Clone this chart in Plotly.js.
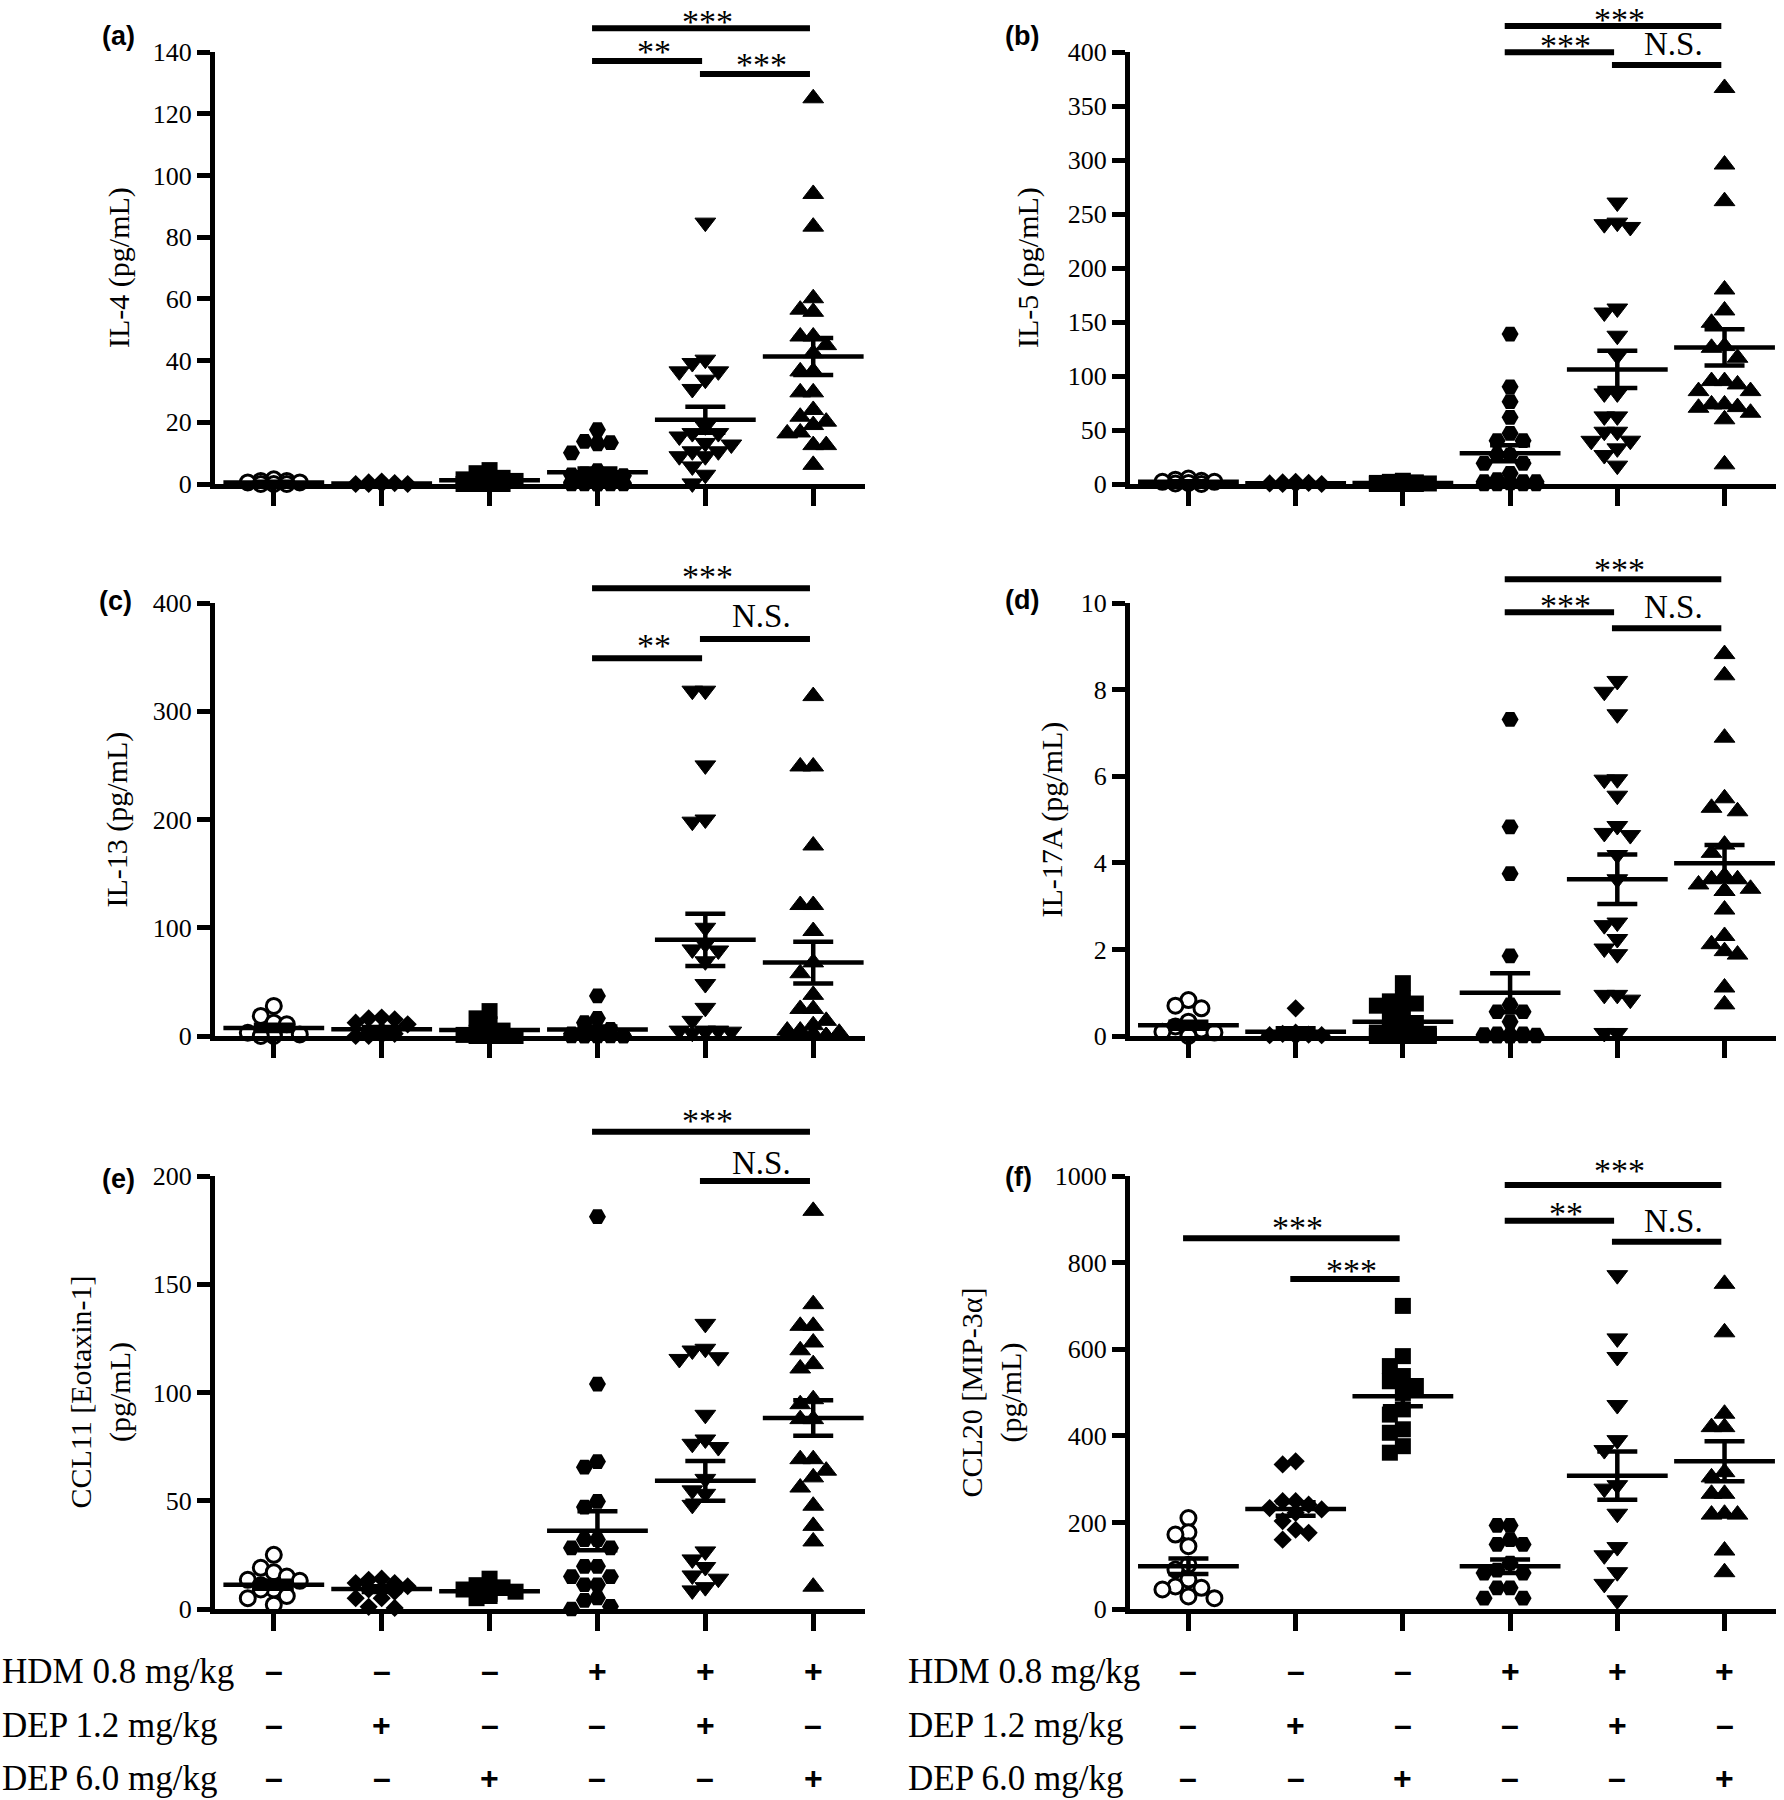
<!DOCTYPE html>
<html><head><meta charset="utf-8">
<script src="https://cdn.plot.ly/plotly-3.0.1.min.js"></script>
<style>html,body{margin:0;padding:0;background:#fff}</style>
</head><body><div id="chart" style="width:1784px;height:1800px"></div>
<script>
// ---------------- DATA ----------------
const groupNames = ['Control','DEP 1.2','DEP 6.0','HDM','HDM+DEP 1.2','HDM+DEP 6.0'];
const hdmRow  = ['–','–','–','+','+','+'];
const dep12Row = ['–','+','–','–','+','–'];
const dep60Row = ['–','–','+','–','–','+'];
const rowLabels = ['HDM 0.8 mg/kg','DEP 1.2 mg/kg','DEP 6.0 mg/kg'];

// (a) IL-4
const il4Values = [
  [1.5,1,1,0.5,0.5,0,0,0],
  [0.8,0.5,0.3,0,0,0,0],
  [4.5,3.5,2,1.5,1,0.5,0,0,0,0],
  [17.6,13.8,13.4,13.0,10.1,4.3,3.3,3,3,2.7,2.7,1.5,1,0.6,0.3,0.3,0,0,0,0,0,0],
  [84.7,40.3,39.2,36.5,36.5,33.8,30.8,18.7,16.5,16.5,15.4,13.3,12.8,10.6,10.6,9.0,9.0,5.7,3.0,0.2],
  [125,94,83.4,60.2,55.8,56.5,47.8,47.8,45,42.4,36.5,36.5,29.7,29.7,24,21.8,20.2,19.1,16.4,16.7,12.6,12.6,6.2]
];
const il4Mean = [0.5,0.2,1.2,3.8,20.8,41.3];
const il4Sem  = [0.2,0.1,0.5,1.2,4.2,6.0];
const il4SigPairs = [[4,6],[4,5],[5,6]];
const il4SigText  = ['***','**','***'];

// (b) IL-5
const il5Values = [
  [5,4,3,2,2,1,0.5,0],
  [2,1.5,1,0.5,0,0,0],
  [3,2,1.5,1,0.5,0,0,0,0],
  [138.8,90,76.2,61.7,46.9,40.1,40.1,26.8,26.8,19.1,19.1,9.9,4,2.1,2.1,2.1,1,0,0,0,0],
  [260.6,242,240.6,238,162.5,158.8,137.3,118.8,83.9,83.9,62.6,62.6,48.4,48.4,40.1,40,33,26.8,17],
  [366.7,295.8,261.9,180.1,160.7,149.3,127.7,126.1,116.9,95.3,95.3,92.2,86,86,73.7,73.7,71.2,70.6,66,59.9,18.2]
];
const il5Mean = [2,0.8,1,28.4,106.1,126.5];
const il5Sem  = [0.6,0.3,0.4,7.4,17.3,16.8];
const il5SigPairs = [[4,6],[4,5],[5,6]];
const il5SigText  = ['***','***','N.S.'];

// (c) IL-13
const il13Values = [
  [27.8,18.5,12.3,10.8,4.6,3,1.5,1.5,0,0],
  [17,16.3,15.4,12.3,10.8,5,3,2,1,0,0],
  [23,16.3,10.8,5,3,1,0,0,0,0],
  [37,16.3,12.3,6.2,3,2,0,0,0,0,0,0,0],
  [319,319,250,200,198,100,85,80,79,69,48,26,14,5,5,5,4,4,3],
  [314,249,249,176,121,121,97,68,58,38,25,25,14,10,5,5,3,2,0,0,0,0,0]
];
const il13Mean = [7.5,6.2,5.5,5.9,88.8,67.8];
const il13Sem  = [2.8,2.0,2.4,2.9,24.2,19.3];
const il13SigPairs = [[4,6],[4,5],[5,6]];
const il13SigText  = ['***','**','N.S.'];

// (d) IL-17A
const il17Values = [
  [0.83,0.7,0.64,0.33,0.22,0.15,0.1,0.08,0.05,0],
  [0.64,0.08,0.05,0.03,0.02,0.02,0],
  [1.22,0.87,0.8,0.75,0.7,0.55,0.45,0.3,0.15,0.1,0.08,0.05,0.02,0,0,0,0,0,0,0],
  [7.31,4.83,3.75,1.85,0.72,0.56,0.56,0.33,0.05,0.05,0.03,0.02,0.02,0,0,0,0,0,0,0],
  [8.2,7.95,7.43,5.93,5.92,5.55,4.85,4.69,4.64,4.18,3.62,2.62,2.56,2.24,2.02,1.89,0.95,0.95,0.84,0.07,0.07],
  [8.82,8.33,6.89,5.49,5.27,5.19,4.42,4.23,3.7,3.62,3.62,3.5,3.4,3.35,3.35,2.92,2.31,2.12,1.96,1.88,1.12,0.73]
];
const il17Mean = [0.25,0.1,0.33,1.0,3.62,3.99];
const il17Sem  = [0.08,0.08,0.09,0.45,0.57,0.42];
const il17SigPairs = [[4,6],[4,5],[5,6]];
const il17SigText  = ['***','***','N.S.'];

// (e) CCL11 [Eotaxin-1]
const ccl11Values = [
  [25,19,17,15,13.5,13,11,10,9,9,6,5,2],
  [14,13.5,12,12,10.5,9,9,8,5,5,1,0.5],
  [14,11,10,9,8,7,6,5],
  [181.2,103.9,68.1,65.5,49.7,47.1,32,32,28.2,28.2,19.7,19.7,15,15,11.2,11.2,5.1,4,1.2,0],
  [131.7,120.2,119.4,116.3,115.5,89.7,78.3,76.3,74.8,60.1,54.8,53.2,48.1,26.6,22.9,19.4,15.5,14,10.1,8.6],
  [183.9,140.8,130.8,130.8,123.1,119.5,113.1,111.1,96.9,94.6,87.7,87.7,69.2,69.2,63.9,60.8,56.1,47.7,38.4,31.2,10.3]
];
const ccl11Mean = [11.2,9.2,8.2,36.1,59.2,88.2];
const ccl11Sem  = [1.8,1.3,1.2,9.0,9.2,8.2];
const ccl11SigPairs = [[4,6],[5,6]];
const ccl11SigText  = ['***','N.S.'];

// (f) CCL20 [MIP-3α]
const ccl20Values = [
  [210,177,172,145,102,91,68,52,49,45,29,25],
  [341,334,249,249,241,233,230,222,203,183,176,160],
  [700,584,561,538,526,515,499,461,449,415,407,376,361],
  [193,193,160,149,149,106,90,83,83,49,49,25,25],
  [771,625,582,471,390,367,286,278,220,143,124,85,58,20],
  [751,639,451,420,420,316,304,266,266,220,218,218,135,85]
];
const ccl20Mean = [98.6,231,491.5,98.6,308,341.3];
const ccl20Sem  = [18,15.5,23,15.5,55.7,46];
const ccl20SigPairs = [[1,3],[2,3],[4,6],[4,5],[5,6]];
const ccl20SigText  = ['***','***','***','**','N.S.'];

// ---------------- LAYOUT / STYLE ----------------
const W = 1784, H = 1800;
const PX = x => x / W, PY = y => 1 - y / H;
const COLS = [{x0:215, x1:865}, {x0:1130, x1:1776}];
const ROWS = [{top:52, bot:484}, {top:603, bot:1036}, {top:1176, bot:1609}];
const XR = [0.455, 6.48];
const SERIF = 'Liberation Serif';
const SANS = 'Liberation Sans';
const STAR_SHIFT = 5;

const groupStyle = [
  {symbol:'circle', size:15, color:'#ffffff', lw:3},
  {symbol:'diamond', size:14, color:'#000000', lw:0},
  {symbol:'square', size:16, color:'#000000', lw:0},
  {symbol:'hexagon2', size:17, color:'#000000', lw:0},
  {symbol:'triangle-down', size:18, color:'#000000', lw:1},
  {symbol:'triangle-up', size:18, color:'#000000', lw:1}
];

const panels = [
  {letter:'(a)', title:'IL-4 (pg/mL)', vals:il4Values, mean:il4Mean, sem:il4Sem, pairs:il4SigPairs, sig:il4SigText,
   ymax:140, dtick:20, col:0, row:0, letterPos:[118,36], titleX:119, barY:[28.3,61,74], textY:[16,47,59]},
  {letter:'(b)', title:'IL-5 (pg/mL)', vals:il5Values, mean:il5Mean, sem:il5Sem, pairs:il5SigPairs, sig:il5SigText,
   ymax:400, dtick:50, col:1, row:0, letterPos:[1022,36], titleX:1028, barY:[26,52.3,65], textY:[15,40,43.5]},
  {letter:'(c)', title:'IL-13 (pg/mL)', vals:il13Values, mean:il13Mean, sem:il13Sem, pairs:il13SigPairs, sig:il13SigText,
   ymax:400, dtick:100, col:0, row:1, letterPos:[115,601], titleX:116, barY:[588.3,658.3,639], textY:[572,640,616]},
  {letter:'(d)', title:'IL-17A (pg/mL)', vals:il17Values, mean:il17Mean, sem:il17Sem, pairs:il17SigPairs, sig:il17SigText,
   ymax:10, dtick:2, col:1, row:1, letterPos:[1022,600], titleX:1051, barY:[579.3,612.3,628.3], textY:[564,600.5,606.7]},
  {letter:'(e)', title:'CCL11 [Eotaxin-1]<br>(pg/mL)', vals:ccl11Values, mean:ccl11Mean, sem:ccl11Sem, pairs:ccl11SigPairs, sig:ccl11SigText,
   ymax:200, dtick:50, col:0, row:2, letterPos:[118,1179], titleX:100, barY:[1131.7,1181], textY:[1115.5,1163]},
  {letter:'(f)', title:'CCL20 [MIP-3α]<br>(pg/mL)', vals:ccl20Values, mean:ccl20Mean, sem:ccl20Sem, pairs:ccl20SigPairs, sig:ccl20SigText,
   ymax:1000, dtick:200, col:1, row:2, letterPos:[1018,1177], titleX:991, barY:[1238.3,1279,1185,1220.7,1241.7], textY:[1222,1265.5,1165.5,1208,1221]}
];

// deterministic beeswarm offsets (in category units)
function swarm(vals, ymax, plotH, pxPerCat, center){
  const STEP = 6.5, MW = 13, MH = 13, K = 5;
  const pxY = plotH / ymax;
  const cands = [0];
  for (let k = 1; k <= K; k++) { cands.push(-k*STEP, k*STEP); }
  const order = vals.map((v,i)=>i).sort((a,b)=>vals[b]-vals[a]);
  const placed = [], xs = new Array(vals.length);
  order.forEach(i => {
    const py = vals[i]*pxY;
    let best = 0, bestHits = Infinity;
    for (const c of cands) {
      let hits = 0;
      for (const p of placed) if (Math.abs(p.x-c) < MW && Math.abs(p.y-py) < MH) hits++;
      if (hits === 0) { best = c; bestHits = 0; break; }
      if (hits < bestHits) { bestHits = hits; best = c; }
    }
    placed.push({x:best, y:py});
    xs[i] = center + best / pxPerCat;
  });
  return xs;
}

const traces = [], shapes = [], annotations = [];
const layout = {
  width: W, height: H, margin: {l:0, r:0, t:0, b:0},
  paper_bgcolor: '#fff', plot_bgcolor: '#fff', showlegend: false,
  font: {family: SERIF, color: '#000'}
};

panels.forEach((p, idx) => {
  const n = idx + 1, sfx = n === 1 ? '' : String(n);
  const xa = 'x' + sfx, ya = 'y' + sfx;
  const col = COLS[p.col], row = ROWS[p.row];
  const plotH = row.bot - row.top, plotW = col.x1 - col.x0;
  const pxPerCat = plotW / (XR[1] - XR[0]);
  const tv = []; for (let v = 0; v <= p.ymax + 1e-9; v += p.dtick) tv.push(+v.toFixed(6));

  layout['xaxis' + sfx] = {
    domain: [PX(col.x0), PX(col.x1)], anchor: ya, range: XR, fixedrange: true,
    showline: true, linewidth: 5, linecolor: '#000', showgrid: false, zeroline: false,
    ticks: 'outside', tickvals: [1,2,3,4,5,6], ticktext: ['','','','','',''], ticklen: 17, tickwidth: 5, tickcolor: '#000',
    showticklabels: false
  };
  layout['yaxis' + sfx] = {
    domain: [PY(row.bot), PY(row.top)], anchor: xa, range: [0, p.ymax], fixedrange: true,
    showline: true, linewidth: 5, linecolor: '#000', showgrid: false, zeroline: false,
    ticks: 'outside', tickvals: tv, ticktext: tv.map(String), ticklen: 13, tickwidth: 5, tickcolor: '#000',
    tickfont: {family: SERIF, size: 26, color: '#000'}
  };

  p.vals.forEach((g, gi) => {
    const st = groupStyle[gi];
    traces.push({
      type: 'scatter', mode: 'markers', xaxis: xa, yaxis: ya, cliponaxis: false,
      name: groupNames[gi],
      x: swarm(g, p.ymax, plotH, pxPerCat, gi + 1), y: g,
      marker: {symbol: st.symbol, size: st.size, color: st.color, line: {color: '#000', width: st.lw}},
      hoverinfo: 'y'
    });
  });
  traces.push({
    type: 'scatter', mode: 'markers', xaxis: xa, yaxis: ya, cliponaxis: false,
    x: [1,2,3,4,5,6], y: p.mean,
    marker: {symbol: 'line-ew-open', size: 72, color: '#000', line: {color: '#000', width: 4.5}},
    error_y: {type: 'data', array: p.sem, visible: true, color: '#000', thickness: 4.5, width: 20},
    hoverinfo: 'y'
  });

  annotations.push({xref:'paper', yref:'paper', x: PX(p.letterPos[0]), y: PY(p.letterPos[1]),
    xanchor:'center', yanchor:'middle', showarrow:false, text:'<b>' + p.letter + '</b>',
    font:{family: SANS, size: 27, color:'#000'}});
  annotations.push({xref:'paper', yref:'paper', x: PX(p.titleX), y: PY((row.top + row.bot)/2),
    xanchor:'center', yanchor:'middle', showarrow:false, textangle:-90, text: p.title,
    font:{family: SERIF, size: 30, color:'#000'}});

  p.pairs.forEach((pr, k) => {
    shapes.push({type:'line', xref: xa, yref:'paper', x0: pr[0] - 0.05, x1: pr[1] - 0.03,
      y0: PY(p.barY[k]), y1: PY(p.barY[k]), line:{color:'#000', width:6}});
    const isStar = p.sig[k].indexOf('*') >= 0;
    annotations.push({xref: xa, yref:'paper', x: (pr[0] + pr[1]) / 2 + 0.02,
      y: PY(p.textY[k] + (isStar ? STAR_SHIFT : 0)), xanchor:'center', yanchor:'middle', showarrow:false,
      text: p.sig[k], font:{family: SERIF, size: isStar ? 34 : 33, color:'#000'}});
  });
});

// treatment table under the bottom panels
const rowYs = [1671, 1725, 1778];
const signRows = [hdmRow, dep12Row, dep60Row];
[[0, 'x5'], [906, 'x6']].forEach(([lx, xref]) => {
  rowLabels.forEach((lab, r) => {
    annotations.push({xref:'paper', yref:'paper', x: PX(lx), y: PY(rowYs[r]), xanchor:'left', yanchor:'middle',
      showarrow:false, text: lab, font:{family: SERIF, size: 35, color:'#000'}});
    signRows[r].forEach((s, c) => {
      annotations.push({xref: xref, yref:'paper', x: c + 1, y: PY(rowYs[r]), xanchor:'center', yanchor:'middle',
        showarrow:false, text: '<b>' + s + '</b>', font:{family: SANS, size: 32, color:'#000'}});
    });
  });
});

layout.shapes = shapes;
layout.annotations = annotations;
Plotly.newPlot('chart', traces, layout, {staticPlot: true, displayModeBar: false});
</script></body></html>
